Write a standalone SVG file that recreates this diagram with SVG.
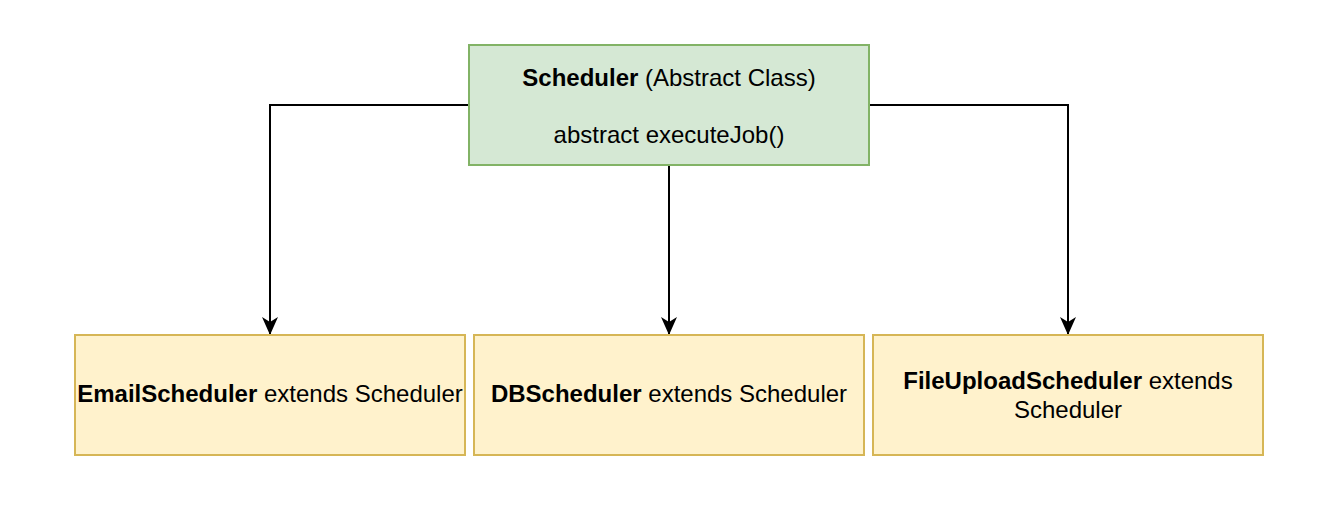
<svg xmlns="http://www.w3.org/2000/svg" width="1324" height="512" viewBox="0 0 1324 512">
<defs>
<style>
.t{font-family:"Liberation Sans",Arial,Helvetica,sans-serif;font-size:24px;fill:#000;text-anchor:middle}
.b{font-weight:bold}
.green{fill:#d5e8d4;stroke:#82b366;stroke-width:2}
.yellow{fill:#fff2cc;stroke:#d6b656;stroke-width:2}
.edge{fill:none;stroke:#000;stroke-width:2}
</style>
<marker id="arr" viewBox="0 0 18 16" refX="18" refY="8" markerWidth="18" markerHeight="16" markerUnits="userSpaceOnUse" orient="auto">
<path d="M0,0 L18,8 L0,16 L5,8 Z" fill="#000"/>
</marker>
</defs>
<rect width="1324" height="512" fill="#fff"/>
<g id="connectors">
<path class="edge" d="M469,105 H270 V335" marker-end="url(#arr)"/>
<path class="edge" d="M669,165 V335" marker-end="url(#arr)"/>
<path class="edge" d="M869,105 H1068 V335" marker-end="url(#arr)"/>
</g>
<g id="scheduler">
<rect class="green" x="469" y="45" width="400" height="120"/>
<text class="t" x="669" y="86"><tspan class="b">Scheduler</tspan> (Abstract Class)</text>
<text class="t" x="669" y="143">abstract executeJob()</text>
</g>
<g id="email">
<rect class="yellow" x="75" y="335" width="390" height="120"/>
<text class="t" x="270" y="402"><tspan class="b">EmailScheduler</tspan> extends Scheduler</text>
</g>
<g id="db">
<rect class="yellow" x="474" y="335" width="390" height="120"/>
<text class="t" x="669" y="402"><tspan class="b">DBScheduler</tspan> extends Scheduler</text>
</g>
<g id="fileupload">
<rect class="yellow" x="873" y="335" width="390" height="120"/>
<text class="t" x="1068" y="389"><tspan class="b">FileUploadScheduler</tspan> extends</text>
<text class="t" x="1068" y="418">Scheduler</text>
</g>
</svg>
